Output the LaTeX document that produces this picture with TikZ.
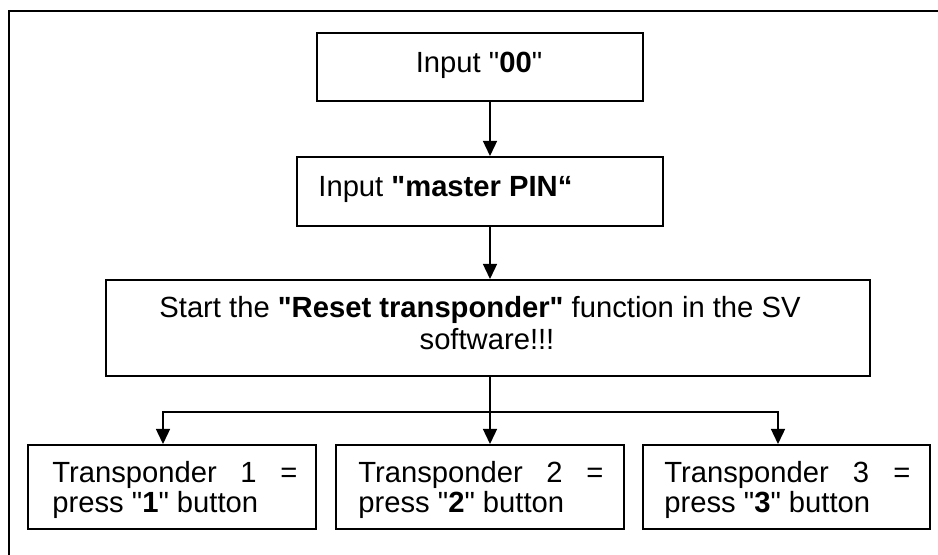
\documentclass[tikz,border=0pt]{standalone}
\usepackage{fontspec}
\setmainfont{Liberation Sans}[Ligatures=TeXOff]
\usetikzlibrary{arrows.meta}
\begin{document}
\begin{tikzpicture}[x=0.5pt,y=-0.5pt,
  box/.style={draw=black, line width=1pt, inner sep=0pt, rectangle},
  txt/.style={font=\fontsize{14.6pt}{16.5pt}\selectfont, inner sep=0pt},
  conn/.style={line width=0.7pt},
  arr/.style={line width=0.7pt, -{Triangle[length=7.5pt,width=7pt]}},
  frameline/.style={line width=1pt}]
\useasboundingbox (0,0) rectangle (938,555);
% outer frame
\coordinate (fb) at (9,555);
\coordinate (fc) at (9,11);
\coordinate (fr) at (938,11);
\draw[frameline] (fb) -- (fc) -- (fr);
% boxes
\node[box, minimum width=163pt, minimum height=34pt] (b1) at (480,67) {};
\node[box, minimum width=183pt, minimum height=34.5pt] (b2) at (480,191.5) {};
\node[box, minimum width=382pt, minimum height=48pt] (b3) at (488,328) {};
\node[box, minimum width=144pt, minimum height=42pt] (bA) at (172,487) {};
\node[box, minimum width=144pt, minimum height=42pt] (bB) at (480,487) {};
\node[box, minimum width=143.5pt, minimum height=42pt] (bC) at (786.5,487) {};
% texts
\node[txt, anchor=base] (t1) at (479,73) {Input "\textbf{00}"};
\node[txt, anchor=base west] (t2) at (318,197) {Input \textbf{"master PIN“}};
\node[txt, anchor=base] (t3a) at (480,318) {Start the \textbf{"Reset transponder"} function in the SV};
\node[txt, anchor=base] (t3b) at (487,350) {software!!!};
\node[txt, anchor=base west] (tA1) at (52,483) {\hbox to 122.5pt{Transponder\hfill 1\hfill =}};
\node[txt, anchor=base west] (tA2) at (52,513) {press "\textbf{1}" button};
\node[txt, anchor=base west] (tB1) at (358,483) {\hbox to 122.5pt{Transponder\hfill 2\hfill =}};
\node[txt, anchor=base west] (tB2) at (358,513) {press "\textbf{2}" button};
\node[txt, anchor=base west] (tC1) at (664,483) {\hbox to 123pt{Transponder\hfill 3\hfill =}};
\node[txt, anchor=base west] (tC2) at (664,513) {press "\textbf{3}" button};
% connectors
\coordinate (cx) at (490,0);
\coordinate (jl) at (163,412);
\coordinate (jm) at (490,412);
\coordinate (jr) at (778,412);
\draw[arr] (b1.south -| cx) -- (b2.north -| cx);
\draw[arr] (b2.south -| cx) -- (b3.north -| cx);
\draw[conn] (b3.south -| cx) -- (jm);
\draw[arr] (jm) -- (bB.north -| jm);
\draw[arr] (jm) -| (bA.north -| jl);
\draw[arr] (jm) -| (bC.north -| jr);
\end{tikzpicture}
\end{document}
